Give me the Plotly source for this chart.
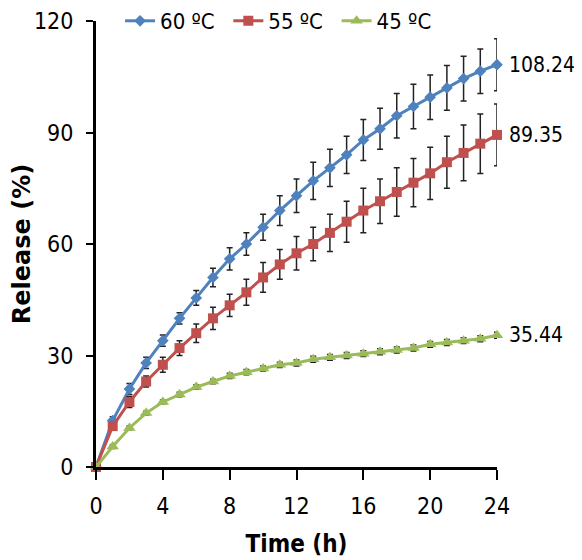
import plotly.graph_objects as go

hours = list(range(0, 25))

rel_60 = [0, 12.5, 21, 28, 34, 40, 45.5, 51, 56, 60, 64.5, 69, 73, 77, 80.5,
          84, 88, 91, 94.5, 97, 99.5, 102, 104.5, 106.5, 108.24]
err_60 = [0, 1, 1.5, 1.5, 1.5, 1.5, 2, 2.5, 3, 3, 3.5, 4, 4.5, 5, 5, 5, 5.5,
          5.5, 6, 6, 6, 6, 6, 6, 7]

rel_55 = [0, 11, 17.5, 23, 27.5, 32, 36, 40, 43.5, 47, 51, 54.5, 57.5, 60, 63,
          66, 69, 71.5, 74, 76.5, 79, 82, 84.5, 87, 89.35]
err_55 = [0, 1, 1.5, 1.5, 2, 2, 2.5, 3, 3, 3.5, 4, 4, 4.5, 4.5, 5, 5.5, 6, 6,
          6.5, 6.5, 7, 7, 7.5, 8, 8.3]

rel_45 = [0, 5.5, 10.5, 14.5, 17.5, 19.5, 21.5, 23, 24.5, 25.5, 26.5, 27.5, 28,
          29, 29.5, 30, 30.5, 31, 31.5, 32, 33, 33.5, 34, 34.5, 35.44]
err_45 = [0, 0.5, 0.5, 0.5, 0.5, 0.6, 0.6, 0.6, 0.7, 0.7, 0.7, 0.7, 0.8, 0.8,
          0.8, 0.8, 0.8, 0.8, 0.8, 0.8, 0.8, 0.8, 0.8, 0.8, 0.8]

series = [
    ("60 ºC", rel_60, err_60, "#4F81BD", "diamond", 9, "legend"),
    ("55 ºC", rel_55, err_55, "#C0504D", "square", 10, "legend2"),
    ("45 ºC", rel_45, err_45, "#9BBB59", "triangle-up", 11, "legend3"),
]

font_main = "DejaVu Sans Condensed, Liberation Sans, sans-serif"

fig = go.Figure()
for name, y, err, color, sym, size, leg in series:
    fig.add_trace(go.Scatter(
        x=hours, y=y, name=name, mode="lines+markers", legend=leg,
        line=dict(color=color, width=3),
        marker=dict(color=color, symbol=sym, size=size),
        error_y=dict(type="data", array=err, visible=True,
                     color="#222222", thickness=1.5, width=3),
        cliponaxis=False,
    ))
    fig.add_annotation(
        x=hours[-1], y=y[-1], text=f"{y[-1]:.2f}", showarrow=False,
        xanchor="left", xshift=10,
        font=dict(family=font_main, size=21, color="black"),
    )


def legend_at(x):
    return dict(orientation="h", x=x, y=1.0, xanchor="left", yanchor="middle",
                font=dict(family=font_main, size=22, color="black"),
                itemwidth=30, bgcolor="rgba(0,0,0,0)")


# the page body adds 8px around the figure, so the figure is 8px smaller
fig.update_layout(
    width=574, height=552,
    margin=dict(l=88, r=85, t=13, b=93, autoexpand=False),
    paper_bgcolor="white", plot_bgcolor="white",
    showlegend=True,
    legend=legend_at(0.06),
    legend2=legend_at(0.33),
    legend3=legend_at(0.60),
    xaxis=dict(
        range=[0, 24], tickvals=[0, 4, 8, 12, 16, 20, 24],
        showline=True, linecolor="black", linewidth=3, showgrid=False,
        zeroline=False, ticks="outside", ticklen=10, tickwidth=2,
        tickcolor="black", ticklabelstandoff=6,
        tickfont=dict(family=font_main, size=23, color="black"),
        title=dict(text="<b>Time (h)</b>", standoff=18,
                   font=dict(family=font_main, size=24, color="black")),
    ),
    yaxis=dict(
        range=[0, 120], tickvals=[0, 30, 60, 90, 120],
        showline=True, linecolor="black", linewidth=3, showgrid=False,
        zeroline=False, ticks="outside", ticklen=7, tickwidth=2,
        tickcolor="black", ticklabelstandoff=8,
        tickfont=dict(family=font_main, size=23, color="black"),
        title=dict(text="<b>Release (%)</b>", standoff=8,
                   font=dict(family="DejaVu Sans, sans-serif",
                             size=24, color="black")),
    ),
)

fig.write_html("out.html")
